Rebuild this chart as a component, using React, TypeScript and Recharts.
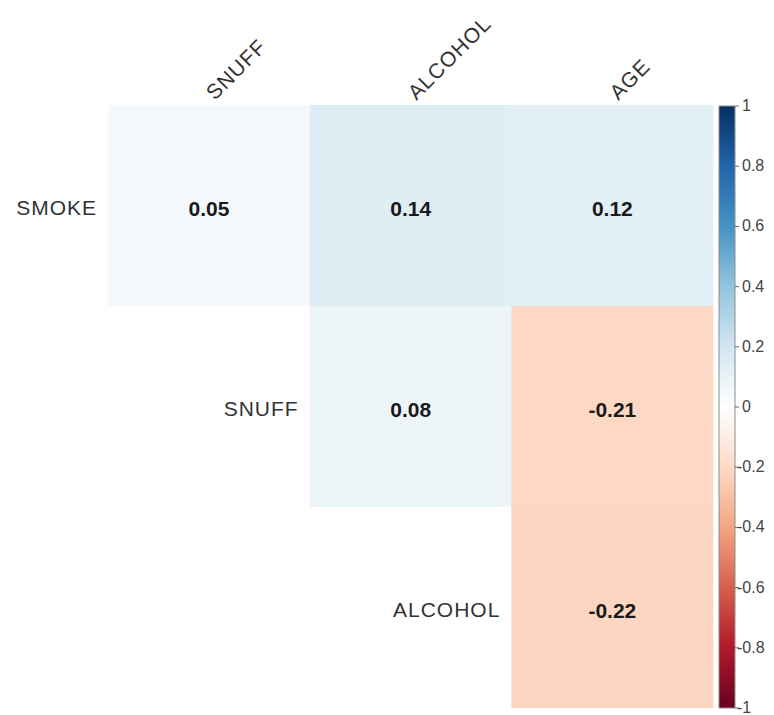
import React from 'react';
import { BarChart, Bar, XAxis, YAxis, Cell, LabelList } from 'recharts';

// upper-triangle correlation matrix, rows top to bottom
const columns = ['SNUFF', 'ALCOHOL', 'AGE'];
const rows = ['SMOKE', 'SNUFF', 'ALCOHOL'];
const smokeCorr = [0.05, 0.14, 0.12];
const snuffCorr = [null, 0.08, -0.21];
const alcoholCorr = [null, null, -0.22];
const corrByRow: (number | null)[][] = [smokeCorr, snuffCorr, alcoholCorr];

const scaleTicks = [1, 0.8, 0.6, 0.4, 0.2, 0, -0.2, -0.4, -0.6, -0.8, -1];

// RdBu ramp, from -1 to 1
const RDBU = [
  '#67001F', '#B2182B', '#D6604D', '#F4A582', '#FDDBC7', '#FFFFFF',
  '#D1E5F0', '#92C5DE', '#4393C3', '#2166AC', '#053061',
];

const FONT = '"Liberation Sans", Arial, Helvetica, sans-serif';

const hex = (c: string) => [1, 3, 5].map((i) => parseInt(c.slice(i, i + 2), 16));

const corrColor = (v: number) => {
  const t = ((v + 1) / 2) * (RDBU.length - 1);
  const i = Math.min(Math.floor(t), RDBU.length - 2);
  const f = t - i;
  const a = hex(RDBU[i]);
  const b = hex(RDBU[i + 1]);
  const m = a.map((ch, k) => Math.round(ch + (b[k] - ch) * f));
  return `rgb(${m.join(',')})`;
};

// one stacked segment per row in every column
const matrixData = columns.map((col) => {
  const d: Record<string, any> = { col };
  rows.forEach((_, ri) => {
    d[`r${ri}`] = 1;
  });
  return d;
});

const scaleData = [{ name: 'corr', range: [-1, 1] }];

const ColumnTick = ({ x, y, payload }: any) => {
  const tx = x + 6;
  const ty = y - 4;
  return (
    <text
      x={tx}
      y={ty}
      transform={`rotate(-45, ${tx}, ${ty})`}
      textAnchor="start"
      fontFamily={FONT}
      fontSize={21}
      letterSpacing={1}
      fill="#333"
    >
      {payload.value}
    </text>
  );
};

const makeCellLabel = (ri: number) => (props: any) => {
  const { x, y, width, height, index } = props;
  const v = corrByRow[ri][index];
  if (v == null) return null;
  const first = corrByRow[ri].findIndex((c) => c != null) === index;
  const cy = y + height / 2;
  return (
    <g>
      <text
        x={x + width / 2}
        y={cy + 10}
        textAnchor="middle"
        fontFamily={FONT}
        fontSize={21}
        fontWeight="bold"
        fill="#1a1a1a"
      >
        {v.toFixed(2)}
      </text>
      {first && (
        <text
          x={x - 11}
          y={cy + 9}
          textAnchor="end"
          fontFamily={FONT}
          fontSize={21}
          letterSpacing={1}
          fill="#333"
        >
          {rows[ri]}
        </text>
      )}
    </g>
  );
};

const ScaleTick = ({ x, y, payload }: any) => {
  const v = payload.value as number;
  // the minus sign sits on top of the tick mark
  const tx = v < 0 ? x + 2 : x + 7;
  return (
    <g>
      <line x1={x} x2={x + 4} y1={y} y2={y} stroke="#666" />
      <text x={tx} y={y + 5} textAnchor="start" fontFamily={FONT} fontSize={16} fill="#444">
        {String(v)}
      </text>
    </g>
  );
};

export default function App() {
  return (
    <div style={{ position: 'absolute', left: 0, top: 0, width: 774, height: 715, background: '#fff' }}>
      <div style={{ position: 'absolute', left: 0, top: 0 }}>
        <BarChart
          width={774}
          height={715}
          data={matrixData}
          margin={{ top: 5, right: 61, bottom: 7, left: 108 }}
          barCategoryGap={0}
          barGap={0}
        >
          <XAxis
            dataKey="col"
            orientation="top"
            height={100}
            axisLine={false}
            tickLine={false}
            tickSize={0}
            tickMargin={0}
            tick={<ColumnTick />}
            interval={0}
          />
          <YAxis type="number" domain={[0, 3]} reversed hide />
          {rows.map((r, ri) => (
            <Bar key={r} dataKey={`r${ri}`} stackId="m" isAnimationActive={false}>
              {columns.map((c, ci) => {
                const v = corrByRow[ri][ci];
                return <Cell key={c} fill={v == null ? 'transparent' : corrColor(v)} />;
              })}
              <LabelList dataKey={`r${ri}`} content={makeCellLabel(ri)} />
            </Bar>
          ))}
        </BarChart>
      </div>
      <div style={{ position: 'absolute', left: 712, top: 0 }}>
        <BarChart
          width={62}
          height={715}
          data={scaleData}
          margin={{ top: 106, right: 0, bottom: 7, left: 7 }}
          barCategoryGap={0}
        >
          <defs>
            <linearGradient id="rdbu" x1="0" y1="0" x2="0" y2="1">
              {RDBU.slice()
                .reverse()
                .map((c, i) => (
                  <stop key={c} offset={`${(i / (RDBU.length - 1)) * 100}%`} stopColor={c} />
                ))}
            </linearGradient>
          </defs>
          <XAxis dataKey="name" hide />
          <YAxis
            orientation="right"
            width={39}
            domain={[-1, 1]}
            ticks={scaleTicks}
            axisLine={false}
            tickLine={false}
            tickSize={0}
            tickMargin={0}
            tick={<ScaleTick />}
            interval={0}
          />
          <Bar dataKey="range" fill="url(#rdbu)" stroke="#8c8c8c" strokeWidth={1} isAnimationActive={false} />
        </BarChart>
      </div>
    </div>
  );
}
